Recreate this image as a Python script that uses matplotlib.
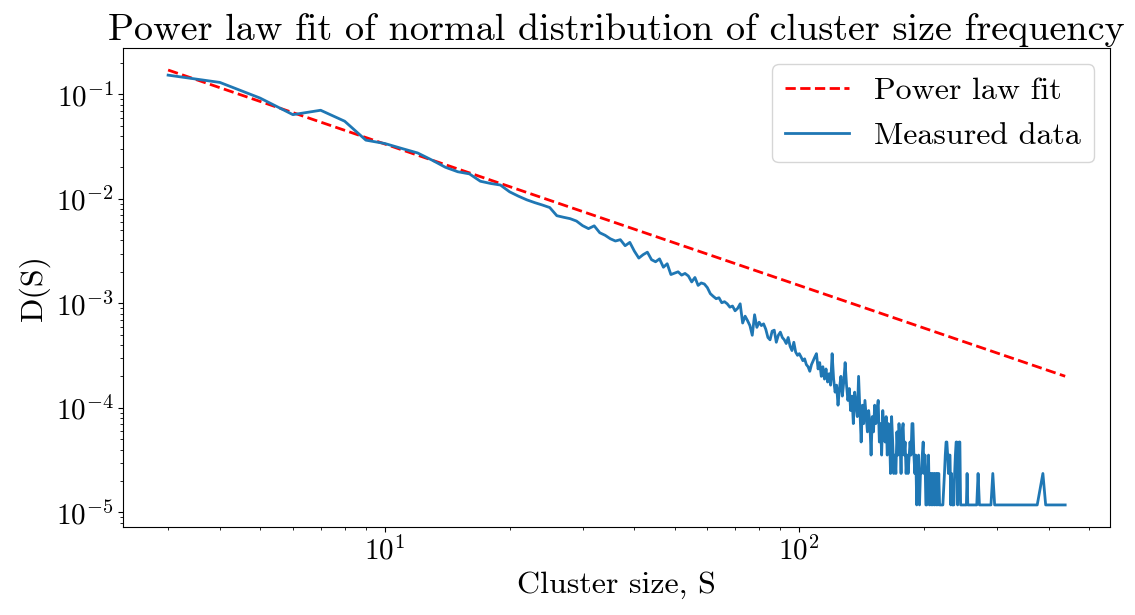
import numpy as np
import matplotlib.pyplot as plt

# cluster sizes with at least one cluster observed
sizes = list(range(3, 157)) + [
    157, 158, 159, 160, 161, 162, 163, 164, 165, 166, 167, 168, 169, 170,
    171, 172, 173, 174, 175, 176, 177, 178, 179, 180, 181, 182, 183, 185,
    186, 187, 188, 189, 190, 191, 192, 193, 194, 195, 196, 197, 198, 199,
    200, 201, 202, 203, 204, 205, 206, 207, 208, 209, 210, 211, 212, 213,
    214, 215, 216, 217, 218, 220, 222, 224, 225, 226, 227, 228, 229, 230,
    231, 232, 233, 234, 236, 237, 238, 239, 240, 241, 242, 243, 244, 245,
    246, 248, 249, 251, 253, 254, 255, 257, 259, 262, 265, 268, 270, 272,
    276, 279, 284, 290, 293, 296, 300, 315, 338, 356, 375, 387, 393, 438]

# number of clusters of each size
counts = [
    12940, 11020, 7810, 5420, 5970, 4690, 3090, 2870, 2570, 2330,   # 3-12
    1990, 1700, 1540, 1470, 1250, 1190, 1150, 990, 900, 830,        # 13-22
    780, 740, 700, 585, 565, 548, 520, 470, 440, 468,               # 23-32
    402, 380, 352, 335, 345, 302, 325, 268, 230, 248,               # 33-42
    262, 222, 212, 226, 188, 203, 160, 165, 170, 158,               # 43-52
    164, 155, 136, 150, 126, 133, 130, 120, 105, 99,                # 53-62
    94, 96, 86, 88, 84, 78, 80, 72, 76, 84,                         # 63-72
    55, 64, 58, 52, 42, 66, 50, 56, 52, 54,                         # 73-82
    48, 40, 38, 46, 47, 36, 42, 45, 40, 38,                         # 83-92
    35, 40, 33, 30, 36, 29, 27, 28, 26, 24,                         # 93-102
    25, 22, 21, 19, 22, 24, 26, 28, 20, 23,                         # 103-112
    17, 21, 16, 20, 15, 18, 14, 28, 16, 12,                         # 113-122
    14, 9, 13, 17, 11, 15, 23, 14, 10, 13,                          # 123-132
    8, 11, 6, 12, 9, 7, 17, 8, 4, 9,                                # 133-142
    6, 10, 7, 5, 8, 6, 3, 7, 5, 9,                                  # 143-152
    6, 8, 10, 4,                                                    # 153-156
    6, 3, 8, 5, 4, 7, 3, 6, 5, 2, 7, 4, 2, 3,
    2, 5, 3, 6, 4, 2, 5, 6, 3, 4, 2, 3, 2, 4,
    3, 6, 6, 3, 2, 3, 1, 2, 3, 1, 2, 2, 3, 4,
    2, 3, 1, 1, 2, 3, 1, 2, 1, 2, 1, 2, 1, 2,
    1, 2, 1, 2, 1, 1, 1, 2, 3, 4, 4, 3, 2, 3,
    3, 1, 2, 1, 1, 2, 3, 4, 4, 1, 2, 4, 4, 1,
    1, 1, 1, 1, 1, 2, 1, 1, 1, 1, 1, 1, 2, 1,
    1, 1, 1, 1, 2, 1, 1, 1, 1, 1, 1, 2, 1, 1]
n_clusters = 84700

# power law fit, end points of the straight line in log-log
fit_sizes = [3, 438]
fit_values = [0.171, 2.01e-4]

plt.rcParams['font.family'] = 'serif'
plt.rcParams['font.serif'] = ['cmr10']
plt.rcParams['mathtext.fontset'] = 'cm'
plt.rcParams['axes.formatter.use_mathtext'] = True

D = np.array(counts) / n_clusters

fig = plt.figure(figsize=(11.35, 6.15), dpi=100)
ax = fig.add_axes([0.1086, 0.1436, 0.978 - 0.1086, 0.9215 - 0.1436])

ax.plot(fit_sizes, fit_values, 'r--', linewidth=2, label='Power law fit')
ax.plot(sizes, D, color='#1f77b4', linewidth=2, label='Measured data')
ax.set_xscale('log')
ax.set_yscale('log')

ax.set_title('Power law fit of normal distribution of cluster size frequency', fontsize=27.5)
ax.set_xlabel('Cluster size, S', fontsize=23)
ax.set_ylabel('D(S)', fontsize=23)
ax.tick_params(labelsize=21)
ax.legend(fontsize=23, loc='upper right')

plt.savefig('out.png', dpi=100)
